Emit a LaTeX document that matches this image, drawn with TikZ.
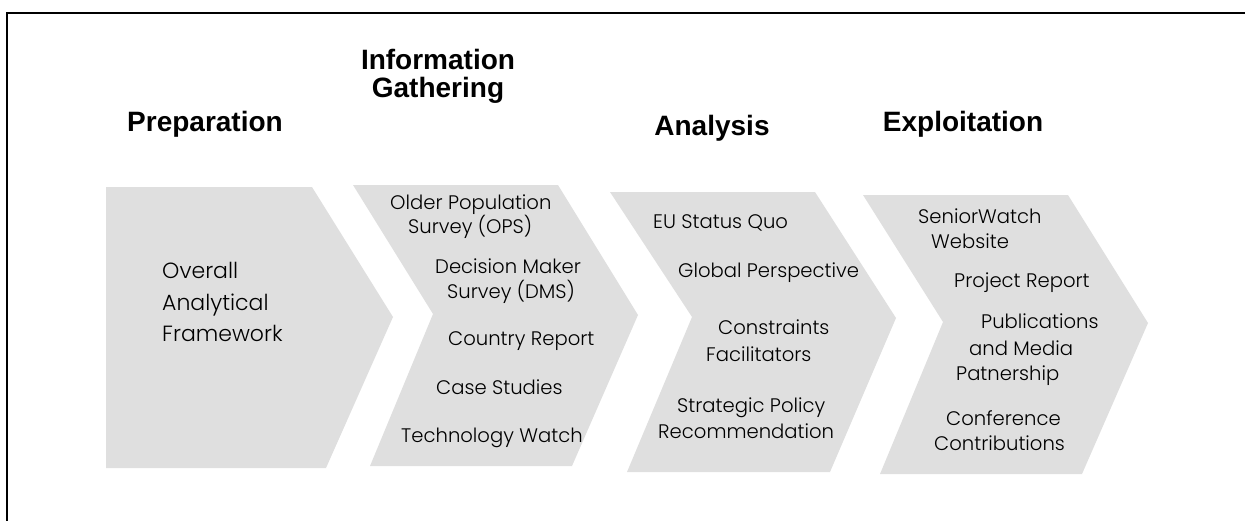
\documentclass[tikz,border=0pt]{standalone}
\usepackage{fontspec}
\setmainfont{Poppins}[UprightFont=* Light]
\newfontfamily\titlefont{Liberation Sans}
\definecolor{chevfill}{RGB}{223,223,223}
\begin{document}
\begin{tikzpicture}[x=1pt,y=-1pt,
  chev/.style={fill=chevfill,draw=none},
  ttl/.style={font=\titlefont\bfseries\fontsize{28}{28}\selectfont,inner sep=0pt,anchor=base,align=center},
  itm/.style={font=\fontsize{19.6}{22}\selectfont,inner sep=0pt,anchor=base west},
  big/.style={itm,font=\fontsize{22}{26}\selectfont},
  frameline/.style={line width=2pt,black}]
\useasboundingbox (0,0) rectangle (1245,520);
% frame
\coordinate (fbl) at (7,521);
\coordinate (ftl) at (7,13);
\coordinate (ftr) at (1246,13);
\draw[frameline] (fbl) -- (ftl) -- (ftr);
% chevrons
\fill[chev] (106,187) -- (312,187) -- (393,317) -- (326,468) -- (106,468) -- cycle;
\fill[chev] (353,185) -- (558,185) -- (638,315) -- (572,466) -- (370,466) -- (433,314) -- cycle;
\fill[chev] (610,192) -- (815,192) -- (896,318) -- (830,472) -- (627,472) -- (692,317) -- cycle;
\fill[chev] (863,195) -- (1068,195) -- (1148,323) -- (1082,474) -- (880,474) -- (943,322) -- cycle;
% titles
\node[ttl] (t1) at (205,131) {Preparation};
\node[ttl] (t2) at (438,97) {Information\\Gathering};
\node[ttl] (t3) at (712,135) {Analysis};
\node[ttl] (t4) at (963,131) {Exploitation};
% preparation
\node[big] (p1) at (162,278) {Overall};
\node[big] (p2) at (162,310) {Analytical};
\node[big] (p3) at (162,341) {Framework};
% information gathering
\node[itm] (g1) at (390,209) {Older Population};
\node[itm] (g2) at (408,233) {Survey (OPS)};
\node[itm] (g3) at (435,273) {Decision Maker};
\node[itm] (g4) at (447,298) {Survey (DMS)};
\node[itm] (g5) at (448,345) {Country Report};
\node[itm] (g6) at (436,394) {Case Studies};
\node[itm] (g7) at (401,442) {Technology Watch};
% analysis
\node[itm] (a1) at (653,228) {EU Status Quo};
\node[itm] (a2) at (678,277) {Global Perspective};
\node[itm] (a3) at (718,334) {Constraints};
\node[itm] (a4) at (706,361) {Facilitators};
\node[itm] (a5) at (677,412) {Strategic Policy};
\node[itm] (a6) at (658,438) {Recommendation};
% exploitation
\node[itm] (e1) at (918,223) {SeniorWatch};
\node[itm] (e2) at (931,248) {Website};
\node[itm] (e3) at (954,287) {Project Report};
\node[itm] (e4) at (981,328) {Publications};
\node[itm] (e5) at (969,355) {and Media};
\node[itm] (e6) at (956,380) {Patnership};
\node[itm] (e7) at (946,425) {Conference};
\node[itm] (e8) at (934,450) {Contributions};
\end{tikzpicture}
\end{document}
